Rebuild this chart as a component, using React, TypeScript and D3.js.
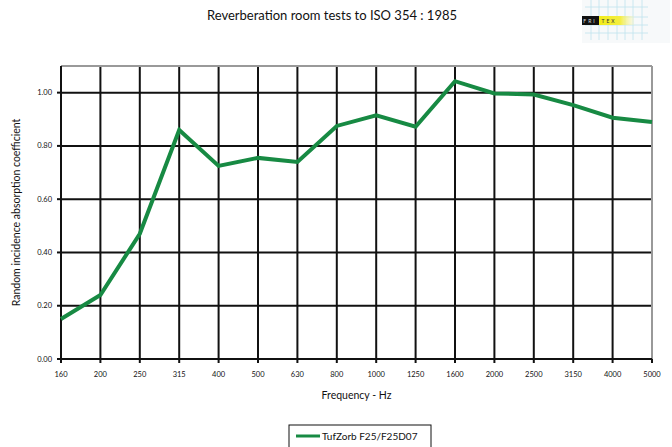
import React from "react";
import * as d3 from "d3";

// frequency bands (Hz) and measured absorption coefficients
const frequencies = ["160", "200", "250", "315", "400", "500", "630", "800", "1000", "1250", "1600", "2000", "2500", "3150", "4000", "5000"];
const tufzorb = [0.15, 0.24, 0.47, 0.86, 0.725, 0.755, 0.74, 0.875, 0.915, 0.872, 1.043, 0.997, 0.993, 0.953, 0.906, 0.89];
const yTicks = [0, 0.2, 0.4, 0.6, 0.8, 1.0];
const seriesName = "TufZorb F25/F25D07";

const W = 672;
const H = 447;
const margin = { top: 66, right: 20, bottom: 88, left: 61 };
const font = "Lato, 'Open Sans', sans-serif";

const App = () => {
  const x = d3.scalePoint().domain(frequencies).range([margin.left, 652]);
  const y = d3.scaleLinear().domain([0, 1.1]).range([359, margin.top]);

  const line = d3
    .line<number>()
    .x((d, i) => x(frequencies[i]) as number)
    .y((d) => y(d));

  const left = margin.left;
  const right = 652;
  const top = margin.top;
  const bottom = y(0);

  return (
    <svg width={W} height={H} style={{ position: "absolute", left: 0, top: 0, background: "#fff" }}>
      {/* logo */}
      <g>
        <rect x={582} y={0} width={88} height={43} fill="#f7f9fa" />
        {[591, 599, 608, 617, 625, 633, 642].map((lx) => (
          <line key={"lv" + lx} x1={lx} x2={lx} y1={0} y2={40} stroke="#bfe3ee" strokeWidth={0.8} />
        ))}
        {[7, 17, 25, 33].map((ly) => (
          <line key={"lh" + ly} x1={585} x2={648} y1={ly} y2={ly} stroke="#bfe3ee" strokeWidth={0.8} />
        ))}
        <defs>
          <linearGradient id="yel" x1="0" x2="1" y1="0" y2="0">
            <stop offset="0" stopColor="#f2ec1a" />
            <stop offset="0.6" stopColor="#f4ee40" />
            <stop offset="1" stopColor="#f7f5c0" stopOpacity={0.3} />
          </linearGradient>
        </defs>
        <rect x={582} y={16} width={17} height={9} fill="#111" />
        <rect x={599} y={16} width={35} height={9} fill="url(#yel)" />
        <text x={590} y={23} fontSize={5} fill="#ddd" textAnchor="middle" fontFamily={font} letterSpacing={2}>FRI</text>
        <text x={609} y={23} fontSize={5} fill="#333" textAnchor="middle" fontFamily={font} letterSpacing={2}>TEX</text>
      </g>

      <text x={332} y={20} textAnchor="middle" fontSize={13} fontFamily={font} fill="#111">
        Reverberation room tests to ISO 354 : 1985
      </text>

      {/* grid */}
      {yTicks.slice(1).map((t) => (
        <line key={"gy" + t} x1={left} x2={right} y1={y(t)} y2={y(t)} stroke="#111" strokeWidth={2} />
      ))}
      {frequencies.slice(1, -1).map((f) => (
        <line key={"gx" + f} x1={x(f)} x2={x(f)} y1={top} y2={bottom} stroke="#111" strokeWidth={2} />
      ))}
      <line x1={left} x2={right} y1={top} y2={top} stroke="#999" strokeWidth={2} />
      <line x1={right} x2={right} y1={top} y2={bottom} stroke="#999" strokeWidth={2} />

      {/* axes */}
      <line x1={left} x2={left} y1={top} y2={bottom + 4} stroke="#111" strokeWidth={2} />
      <line x1={left - 4} x2={right} y1={bottom} y2={bottom} stroke="#111" strokeWidth={2} />
      {yTicks.map((t) => (
        <g key={"ty" + t}>
          <line x1={left - 4} x2={left} y1={y(t)} y2={y(t)} stroke="#111" strokeWidth={2} />
          <text x={left - 9} y={y(t) + 2.5} textAnchor="end" fontSize={7.5} fontFamily={font} fill="#111">
            {t.toFixed(2)}
          </text>
        </g>
      ))}
      {frequencies.map((f) => (
        <g key={"tx" + f}>
          <line x1={x(f)} x2={x(f)} y1={bottom} y2={bottom + 4} stroke="#111" strokeWidth={2} />
          <text x={x(f)} y={bottom + 18} textAnchor="middle" fontSize={7.5} fontFamily={font} fill="#111">
            {f}
          </text>
        </g>
      ))}

      <path d={line(tufzorb) as string} fill="none" stroke="#178a43" strokeWidth={4} strokeLinejoin="miter" />

      <text x={(left + right) / 2} y={399} textAnchor="middle" fontSize={10.5} fontFamily={font} fill="#111">
        Frequency - Hz
      </text>
      <text
        transform={`translate(20, ${(top + bottom) / 2}) rotate(-90)`}
        textAnchor="middle"
        fontSize={10.5}
        fontFamily={font}
        fill="#111"
      >
        Random incidence absorption coefficient
      </text>

      {/* legend */}
      <rect x={289} y={425} width={142} height={30} fill="#fff" stroke="#111" strokeWidth={1} />
      <line x1={296} x2={320} y1={436} y2={436} stroke="#178a43" strokeWidth={3} />
      <text x={322} y={439.5} fontSize={10} fontFamily={font} fill="#111">
        {seriesName}
      </text>
    </svg>
  );
};

export default App;
